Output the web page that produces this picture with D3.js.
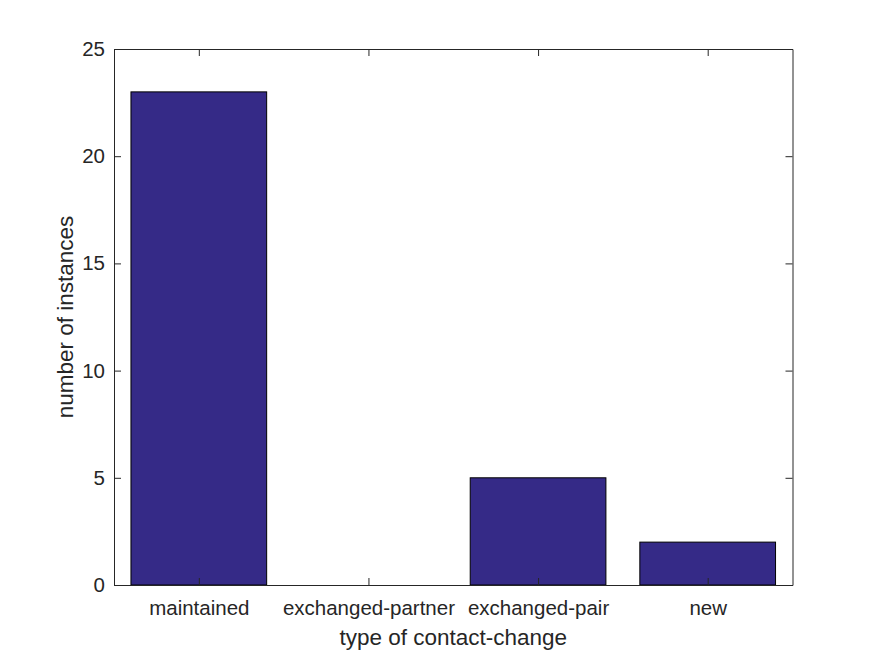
<!DOCTYPE html>
<html>
<head>
<meta charset="utf-8">
<script src="https://cdn.jsdelivr.net/npm/d3@7"></script>
<style>
  body { margin: 0; background: #fff; }
  text { font-family: "Liberation Sans", Arial, sans-serif; }
</style>
</head>
<body>
<div id="chart"></div>
<script>
// ==== Data ====
const categories = ["maintained", "exchanged-partner", "exchanged-pair", "new"];
const counts = [23, 0, 5, 2];
const yTicks = [0, 5, 10, 15, 20, 25];

// ==== Setup ====
const W = 875, H = 656;
const margin = { top: 49, right: 82.5, bottom: 71, left: 114 };
const width = W - margin.left - margin.right;
const height = H - margin.top - margin.bottom;

const svg = d3.select("#chart").append("svg")
    .attr("width", W)
    .attr("height", H);

const g = svg.append("g")
    .attr("transform", `translate(${margin.left},${margin.top})`);

// scales: categories at 1..4, domain padded by half a slot (matlab style)
const xScale = d3.scaleLinear()
    .domain([0.5, categories.length + 0.5])
    .range([0, width]);

const yScale = d3.scaleLinear()
    .domain([0, 25])
    .range([height, 0]);

const barW = (xScale(2) - xScale(1)) * 0.8;

// === Bars ===
g.selectAll(".bar")
    .data(counts)
    .join("rect")
    .attr("class", "bar")
    .attr("x", (d, i) => xScale(i + 1) - barW / 2)
    .attr("y", d => yScale(d))
    .attr("width", barW)
    .attr("height", d => yScale(0) - yScale(d))
    .attr("fill", "#352a87")
    .attr("stroke", "#000")
    .attr("stroke-width", 1);

// === Axes ===
const tickLen = 7;
const xVals = categories.map((c, i) => i + 1);

const xAxis = d3.axisBottom(xScale)
    .tickValues(xVals)
    .tickFormat((d, i) => categories[i])
    .tickSizeInner(-tickLen)
    .tickSizeOuter(0)
    .tickPadding(15.5);

const xAxisTop = d3.axisTop(xScale)
    .tickValues(xVals)
    .tickFormat("")
    .tickSizeInner(-tickLen)
    .tickSizeOuter(0);

const yAxis = d3.axisLeft(yScale)
    .tickValues(yTicks)
    .tickSizeInner(-tickLen)
    .tickSizeOuter(0)
    .tickPadding(9);

const yAxisRight = d3.axisRight(yScale)
    .tickValues(yTicks)
    .tickFormat("")
    .tickSizeInner(-tickLen)
    .tickSizeOuter(0);

function style(sel) {
    sel.attr("font-size", null).attr("font-family", null);
    sel.select(".domain").attr("stroke", "#262626");
    sel.selectAll(".tick line").attr("stroke", "#262626");
    sel.selectAll(".tick text")
        .attr("fill", "#262626")
        .style("font-size", "20.5px");
}

g.append("g").attr("class", "axis x-axis")
    .attr("transform", `translate(0,${height})`)
    .call(xAxis).call(style);
g.append("g").attr("class", "axis x-axis-top")
    .call(xAxisTop).call(style);
g.append("g").attr("class", "axis y-axis")
    .call(yAxis).call(style);
g.append("g").attr("class", "axis y-axis-right")
    .attr("transform", `translate(${width},0)`)
    .call(yAxisRight).call(style);

// === Labels ===
g.append("text")
    .attr("x", width / 2)
    .attr("y", height + 60)
    .attr("text-anchor", "middle")
    .attr("fill", "#262626")
    .style("font-size", "22.5px")
    .text("type of contact-change");

g.append("text")
    .attr("transform", `translate(-41,${height / 2}) rotate(-90)`)
    .attr("text-anchor", "middle")
    .attr("fill", "#262626")
    .style("font-size", "22.5px")
    .text("number of instances");
</script>
</body>
</html>
